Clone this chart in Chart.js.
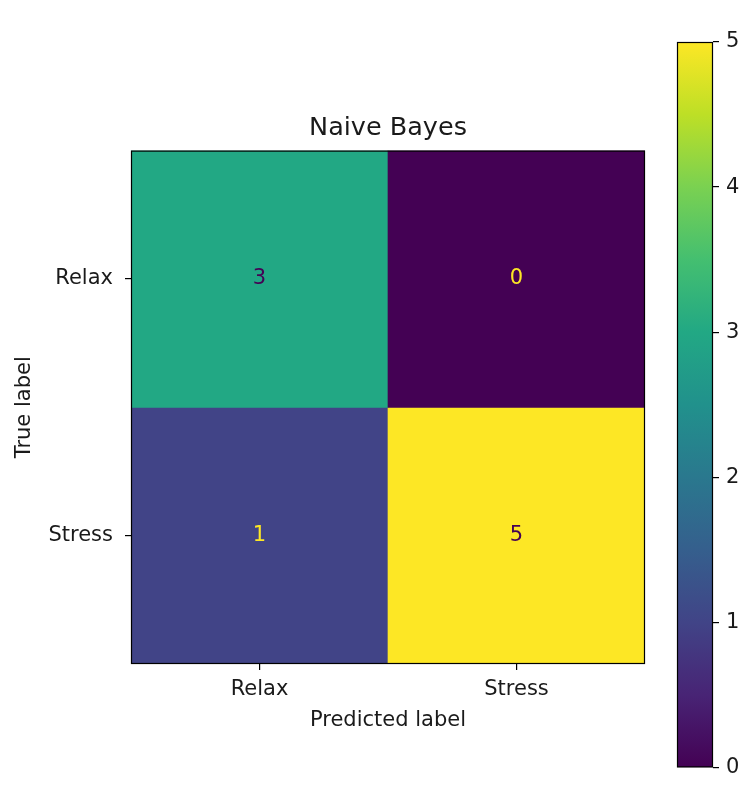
<!DOCTYPE html>
<html>
<head>
<meta charset="utf-8">
<title>Naive Bayes</title>
<script src="https://cdn.jsdelivr.net/npm/chart.js@4.4.1/dist/chart.umd.min.js"></script>
<style>
  html, body { margin: 0; padding: 0; background: #ffffff; }
  body { width: 750px; height: 787px; position: relative; overflow: hidden; }
  #matrixBox { position: absolute; left: 0; top: 0; width: 665px; height: 787px; }
  #barBox { position: absolute; left: 650px; top: 0; width: 100px; height: 787px; }
</style>
</head>
<body>
<div id="matrixBox"><canvas id="matrix" width="665" height="787"></canvas></div>
<div id="barBox"><canvas id="colorbar" width="100" height="787"></canvas></div>
<script>
// Confusion matrix: rows = true label, columns = predicted label
const trueLabels = ['Relax', 'Stress'];
const predictedLabels = ['Relax', 'Stress'];
const rowRelax = [3, 0];
const rowStress = [1, 5];
const matrixRows = [rowRelax, rowStress];
const colorbarTicks = [0, 1, 2, 3, 4, 5];
const valueMin = 0;
const valueMax = 5;

// viridis colour map stops
const VIRIDIS = ['#440154', '#482475', '#414487', '#355f8d', '#2a788e', '#21918c',
                 '#22a884', '#44bf70', '#7ad151', '#bddf26', '#fde725'];

function hexToRgb(h) {
  return [parseInt(h.slice(1, 3), 16), parseInt(h.slice(3, 5), 16), parseInt(h.slice(5, 7), 16)];
}
function viridis(t) {
  t = Math.min(1, Math.max(0, t));
  const pos = t * (VIRIDIS.length - 1);
  const i = Math.min(VIRIDIS.length - 2, Math.floor(pos));
  const f = pos - i;
  const a = hexToRgb(VIRIDIS[i]), b = hexToRgb(VIRIDIS[i + 1]);
  const c = a.map((v, k) => Math.round(v + (b[k] - v) * f));
  return 'rgb(' + c.join(',') + ')';
}
function norm(v) { return (v - valueMin) / (valueMax - valueMin); }

const FONT = 'DejaVu Sans';
Chart.defaults.font.family = FONT;
Chart.defaults.color = '#1a1a1a';
Chart.defaults.animation = false;

// black frame around the plotting area
const frame = {
  id: 'frame',
  afterDatasetsDraw(chart) {
    const { ctx, chartArea: a } = chart;
    ctx.save();
    ctx.strokeStyle = '#000';
    ctx.lineWidth = 1.2;
    ctx.strokeRect(a.left + 0.5, a.top + 0.5, a.right - a.left - 1, a.bottom - a.top - 1);
    ctx.restore();
  }
};

// count written at the centre of every cell
const cellText = {
  id: 'cellText',
  afterDatasetsDraw(chart) {
    const { ctx, scales: { x, y } } = chart;
    const thresh = (valueMin + valueMax) / 2;
    ctx.save();
    ctx.font = '21px "' + FONT + '"';
    ctx.textAlign = 'center';
    ctx.textBaseline = 'middle';
    matrixRows.forEach((row, r) => {
      row.forEach((v, c) => {
        ctx.fillStyle = v >= thresh ? viridis(0) : viridis(1);
        ctx.fillText(String(v), x.getPixelForValue(c), y.getPixelForValue(r));
      });
    });
    ctx.restore();
  }
};

const datasets = matrixRows.map((row, r) => ({
  label: trueLabels[r],
  data: row.map(() => [r - 0.5, r + 0.5]),
  backgroundColor: row.map(v => viridis(norm(v))),
  borderWidth: 0,
  barPercentage: 1,
  categoryPercentage: 1,
  grouped: false
}));

new Chart(document.getElementById('matrix'), {
  type: 'bar',
  data: { labels: predictedLabels, datasets },
  plugins: [cellText, frame],
  options: {
    responsive: false,
    layout: { padding: { left: 0, right: 20, top: 0, bottom: 0 } },
    plugins: {
      legend: { display: false },
      tooltip: { enabled: false },
      title: {
        display: true,
        text: 'Naive Bayes',
        fullSize: false,
        color: '#1a1a1a',
        font: { size: 25.5, weight: 'normal', family: FONT },
        padding: { top: 113, bottom: 7 }
      }
    },
    scales: {
      x: {
        type: 'category',
        offset: true,
        afterFit(s) { s.height = 123; },
        grid: { offset: false, drawOnChartArea: false, drawTicks: true, tickLength: 6, color: '#000', lineWidth: 1.2 },
        border: { display: false },
        ticks: { padding: 7, font: { size: 21 }, color: '#1a1a1a', maxRotation: 0 },
        title: {
          display: true, text: 'Predicted label', color: '#1a1a1a',
          font: { size: 21 }, padding: { top: 0, bottom: 54 }
        }
      },
      y: {
        type: 'linear',
        min: -0.5,
        max: 1.5,
        reverse: true,
        afterFit(s) { s.width = 131; },
        afterBuildTicks(s) { s.ticks = trueLabels.map((_, i) => ({ value: i })); },
        grid: { drawOnChartArea: false, drawTicks: true, tickLength: 6, color: '#000', lineWidth: 1.2 },
        border: { display: false },
        ticks: {
          padding: 12, font: { size: 21 }, color: '#1a1a1a',
          callback: (v) => trueLabels[v] ?? ''
        },
        title: {
          display: true, text: 'True label', color: '#1a1a1a',
          font: { size: 21 }, padding: { top: 12, bottom: 0 }
        }
      }
    }
  }
});

// colour bar: one floating bar spanning the value range, filled with the colour map
new Chart(document.getElementById('colorbar'), {
  type: 'bar',
  data: {
    labels: [''],
    datasets: [{
      data: [[valueMin, valueMax]],
      borderWidth: 0,
      barPercentage: 1,
      categoryPercentage: 1,
      backgroundColor(ctx) {
        const chart = ctx.chart;
        const a = chart.chartArea;
        if (!a || !isFinite(a.top) || !isFinite(a.bottom) || a.bottom === a.top) return VIRIDIS[0];
        const g = chart.ctx.createLinearGradient(0, a.bottom, 0, a.top);
        VIRIDIS.forEach((c, i) => g.addColorStop(i / (VIRIDIS.length - 1), c));
        return g;
      }
    }]
  },
  plugins: [frame],
  options: {
    responsive: false,
    layout: { padding: { left: 27, right: 0, top: 42, bottom: 10 } },
    plugins: { legend: { display: false }, tooltip: { enabled: false } },
    scales: {
      x: { display: false, offset: true },
      y: {
        type: 'linear',
        position: 'right',
        min: valueMin,
        max: valueMax,
        afterFit(s) { s.width = 37; },
        afterBuildTicks(s) { s.ticks = colorbarTicks.map(v => ({ value: v })); },
        grid: { drawOnChartArea: false, drawTicks: true, tickLength: 6, color: '#000', lineWidth: 1.2 },
        border: { display: false },
        ticks: { padding: 7, font: { size: 21 }, color: '#1a1a1a' }
      }
    }
  }
});
</script>
</body>
</html>
